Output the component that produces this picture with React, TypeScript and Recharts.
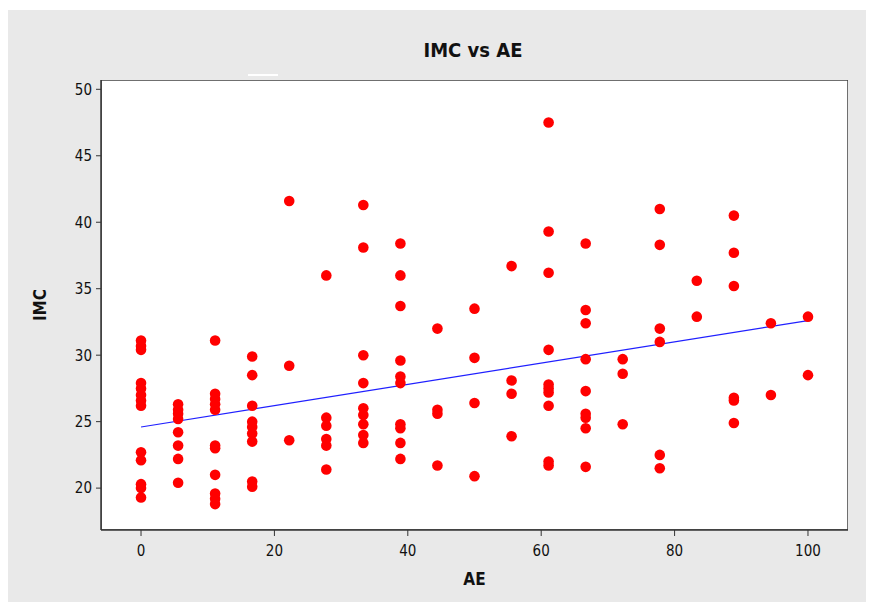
import React from "react";
import {
  ScatterChart,
  Scatter,
  XAxis,
  YAxis,
  ReferenceArea,
  ReferenceLine,
} from "recharts";

const aeValues: number[] = [
  0, 0, 0, 0, 0, 0, 0, 0, 0, 0, 0, 0, 0,
  5.56, 5.56, 5.56, 5.56, 5.56, 5.56, 5.56, 5.56,
  11.11, 11.11, 11.11, 11.11, 11.11, 11.11, 11.11, 11.11, 11.11, 11.11, 11.11,
  16.67, 16.67, 16.67, 16.67, 16.67, 16.67, 16.67, 16.67, 16.67,
  22.22, 22.22, 22.22,
  27.78, 27.78, 27.78, 27.78, 27.78, 27.78,
  33.33, 33.33, 33.33, 33.33, 33.33, 33.33, 33.33, 33.33, 33.33,
  38.89, 38.89, 38.89, 38.89, 38.89, 38.89, 38.89, 38.89, 38.89, 38.89,
  44.44, 44.44, 44.44, 44.44,
  50, 50, 50, 50,
  55.56, 55.56, 55.56, 55.56,
  61.11, 61.11, 61.11, 61.11, 61.11, 61.11, 61.11, 61.11, 61.11, 61.11,
  66.67, 66.67, 66.67, 66.67, 66.67, 66.67, 66.67, 66.67, 66.67,
  72.22, 72.22, 72.22,
  77.78, 77.78, 77.78, 77.78, 77.78, 77.78,
  83.33, 83.33,
  88.89, 88.89, 88.89, 88.89, 88.89, 88.89,
  94.44, 94.44,
  100, 100,
];

const imcValues: number[] = [
  31.1, 30.7, 30.4, 27.9, 27.5, 27.0, 26.6, 26.2, 22.7, 22.1, 20.3, 20.0, 19.3,
  26.3, 25.9, 25.6, 25.2, 24.2, 23.2, 22.2, 20.4,
  31.1, 27.1, 26.7, 26.3, 25.9, 23.2, 23.0, 21.0, 19.6, 19.2, 18.8,
  29.9, 28.5, 26.2, 25.0, 24.6, 24.1, 23.5, 20.5, 20.1,
  41.6, 29.2, 23.6,
  36.0, 25.3, 24.7, 23.7, 23.2, 21.4,
  41.3, 38.1, 30.0, 27.9, 26.0, 25.5, 24.8, 24.0, 23.4,
  38.4, 36.0, 33.7, 29.6, 28.4, 27.9, 24.8, 24.5, 23.4, 22.2,
  32.0, 25.9, 25.6, 21.7,
  33.5, 29.8, 26.4, 20.9,
  36.7, 28.1, 27.1, 23.9,
  47.5, 39.3, 36.2, 30.4, 27.8, 27.5, 27.2, 26.2, 22.0, 21.7,
  38.4, 33.4, 32.4, 29.7, 27.3, 25.6, 25.3, 24.5, 21.6,
  29.7, 28.6, 24.8,
  41.0, 38.3, 32.0, 31.0, 22.5, 21.5,
  35.6, 32.9,
  40.5, 37.7, 35.2, 26.8, 26.6, 24.9,
  32.4, 27.0,
  32.9, 28.5,
];

const xTicks: number[] = [0, 20, 40, 60, 80, 100];
const yTicks: number[] = [20, 25, 30, 35, 40, 45, 50];
const xDomain: number[] = [-6, 106];
const yDomain: number[] = [16.85, 50.7];
const fitX: number[] = [0, 100];
const fitY: number[] = [24.6, 32.6];

const points = aeValues.map((x, i) => ({ x, y: imcValues[i] }));

const FONT = "'DejaVu Sans Condensed', 'DejaVu Sans', sans-serif";

const Dot = (props: any) => {
  const { cx, cy } = props;
  if (cx == null || cy == null) return null;
  return <circle cx={cx} cy={cy} r={5.3} fill="#ff0000" />;
};

export default function App() {
  return (
    <div
      style={{
        position: "absolute",
        left: 0,
        top: 0,
        width: 873,
        height: 602,
        background: "#ffffff",
        overflow: "hidden",
      }}
    >
      <div
        style={{
          position: "absolute",
          left: 8,
          top: 10,
          width: 858,
          height: 592,
          background: "#e9e9e9",
        }}
      />
      <div
        style={{
          position: "absolute",
          left: 248,
          top: 74,
          width: 30,
          height: 2,
          background: "#ffffff",
        }}
      />
      <div
        style={{
          position: "absolute",
          left: 0,
          top: 38,
          width: 946,
          textAlign: "center",
          fontFamily: FONT,
          fontWeight: "bold",
          fontSize: 20,
          color: "#111",
        }}
      >
        IMC vs AE
      </div>
      <div style={{ position: "absolute", left: 0, top: 0 }}>
        <ScatterChart
          width={873}
          height={602}
          margin={{ top: 80, right: 25, left: 41, bottom: 36 }}
        >
          <XAxis
            type="number"
            dataKey="x"
            domain={xDomain}
            ticks={xTicks}
            allowDataOverflow
            tickSize={6}
            tickMargin={9}
            height={36}
            axisLine={{ stroke: "#333", strokeWidth: 1.5 }}
            tickLine={{ stroke: "#333" }}
            tick={{ fill: "#111", fontSize: 15, fontFamily: FONT }}
            label={{
              value: "AE",
              position: "insideBottom",
              offset: -19,
              style: { fontFamily: FONT, fontWeight: "bold", fontSize: 17, fill: "#111" },
            }}
          />
          <YAxis
            type="number"
            dataKey="y"
            domain={yDomain}
            ticks={yTicks}
            allowDataOverflow
            width={60}
            tickSize={5}
            tickMargin={4}
            axisLine={{ stroke: "#333", strokeWidth: 1.5 }}
            tickLine={{ stroke: "#333" }}
            tick={{ fill: "#111", fontSize: 15, fontFamily: FONT }}
            label={{
              value: "IMC",
              angle: -90,
              position: "insideLeft",
              offset: -1,
              style: { fontFamily: FONT, fontWeight: "bold", fontSize: 17, fill: "#111", textAnchor: "middle" },
            }}
          />
          <ReferenceArea
            x1={xDomain[0]}
            x2={xDomain[1]}
            y1={yDomain[0]}
            y2={yDomain[1]}
            fill="#ffffff"
            fillOpacity={1}
            stroke="#404040"
            strokeWidth={1.5}
            ifOverflow="hidden"
          />
          <Scatter
            data={points}
            shape={Dot}
            isAnimationActive={false}
          />
          <ReferenceLine
            segment={[
              { x: fitX[0], y: fitY[0] },
              { x: fitX[1], y: fitY[1] },
            ]}
            stroke="#2020ff"
            strokeWidth={1.2}
          />
        </ScatterChart>
      </div>
    </div>
  );
}
